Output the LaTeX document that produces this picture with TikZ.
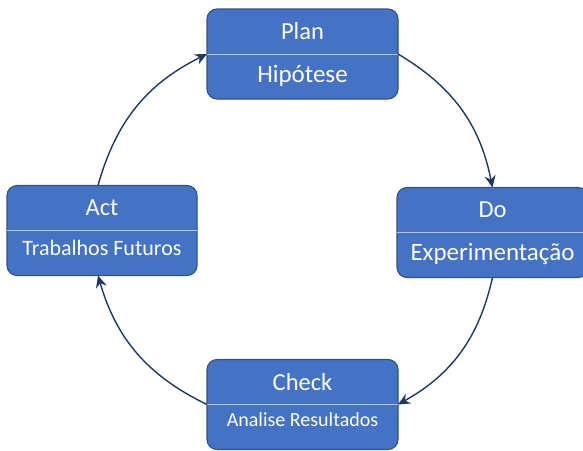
\documentclass[tikz,border=0pt]{standalone}
\usepackage{fontspec}
\setmainfont{Carlito}
\usetikzlibrary{arrows.meta}
\definecolor{boxfill}{HTML}{4472C4}
\definecolor{boxline}{HTML}{2F528F}
\definecolor{divline}{HTML}{B4C7E7}
\definecolor{cycleline}{HTML}{203864}
\tikzset{
  phasebox/.style={draw=boxline, line width=1.1pt, fill=boxfill, rounded corners=10pt,
    minimum width=191pt, minimum height=90pt, inner sep=0pt, outer sep=0pt},
  divider/.style={draw=divline, line width=1pt},
  title/.style={text=white, anchor=base, inner sep=0pt, font=\fontsize{24.5}{29}\selectfont},
  detail/.style={text=white, anchor=base, inner sep=0pt},
  cyclearrow/.style={draw=cycleline, line width=1.4pt, -{Stealth[length=12pt,width=11pt,inset=4pt]}, bend left=24}
}
\begin{document}
\begin{tikzpicture}[x=1pt,y=-1pt]
  \useasboundingbox (0,0) rectangle (583,450);
  % the four phase boxes
  \node[phasebox] (plan)  at (302.5,54)  {};
  \node[phasebox] (do)    at (492.5,232.5) {};
  \node[phasebox] (check) at (302.5,404.5) {};
  \node[phasebox, minimum width=190pt] (act) at (102,230.5) {};
  \foreach \b in {plan,do,check,act} {\draw[divider] (\b.west) -- (\b.east);}
  % labels
  \node[title] (plantitle)  at (302.5,39) {Plan};
  \node[title, font=\fontsize{25}{30}\selectfont] (plandetail) at (302.5,82) {Hipótese};
  \node[title] (dotitle)    at (492.5,217) {Do};
  \node[title, font=\fontsize{25}{30}\selectfont] (dodetail) at (492.5,260) {Experimentação};
  \node[title] (checktitle) at (302.5,390) {Check};
  \node[detail, font=\fontsize{20}{24}\selectfont] (checkdetail) at (302.5,426) {Analise Resultados};
  \node[title] (acttitle)   at (102,215) {Act};
  \node[detail, font=\fontsize{22}{26}\selectfont] (actdetail) at (102,255) {Trabalhos Futuros};
  % the cycle
  \draw[cyclearrow] (plan.east) to (do.north);
  \draw[cyclearrow] (do.south) to (check.east);
  \draw[cyclearrow] (check.west) to ([xshift=-4pt]act.south);
  \draw[cyclearrow] ([xshift=-4pt]act.north) to (plan.west);
\end{tikzpicture}
\end{document}
